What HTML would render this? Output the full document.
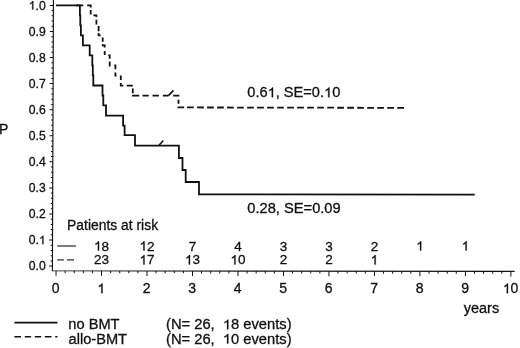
<!DOCTYPE html>
<html><head><meta charset="utf-8"><style>
html,body{margin:0;padding:0;background:#fff;width:520px;height:348px;overflow:hidden}
svg{display:block;will-change:transform}
text{font-family:"Liberation Sans",sans-serif;fill:#111;stroke:#111;stroke-width:0.3px;white-space:pre}
.h{fill-opacity:0;stroke-opacity:0}
.o path{vector-effect:non-scaling-stroke}
</style></head><body>
<svg width="520" height="348" viewBox="0 0 520 348" xml:space="preserve">
<g transform="matrix(1,0.00131,-0.00376,1,1.0182,-0.0686)"><path d="M52.4,-1 V270.8 H514.6" fill="none" stroke="#111" stroke-width="1.15"/><path d="M49.0,266.10H52.4M49.0,240.03H52.4M49.0,213.96H52.4M49.0,187.89H52.4M49.0,161.82H52.4M49.0,135.75H52.4M49.0,109.68H52.4M49.0,83.61H52.4M49.0,57.54H52.4M49.0,31.47H52.4M49.0,5.40H52.4M50.6,260.89H52.4M50.6,255.67H52.4M50.6,250.46H52.4M50.6,245.24H52.4M50.6,234.82H52.4M50.6,229.60H52.4M50.6,224.39H52.4M50.6,219.17H52.4M50.6,208.75H52.4M50.6,203.53H52.4M50.6,198.32H52.4M50.6,193.10H52.4M50.6,182.68H52.4M50.6,177.46H52.4M50.6,172.25H52.4M50.6,167.03H52.4M50.6,156.61H52.4M50.6,151.39H52.4M50.6,146.18H52.4M50.6,140.96H52.4M50.6,130.54H52.4M50.6,125.32H52.4M50.6,120.11H52.4M50.6,114.89H52.4M50.6,104.47H52.4M50.6,99.25H52.4M50.6,94.04H52.4M50.6,88.82H52.4M50.6,78.40H52.4M50.6,73.18H52.4M50.6,67.97H52.4M50.6,62.75H52.4M50.6,52.33H52.4M50.6,47.11H52.4M50.6,41.90H52.4M50.6,36.68H52.4M50.6,26.26H52.4M50.6,21.04H52.4M50.6,15.83H52.4M50.6,10.61H52.4M56.05,270.8V275.8M101.53,270.8V275.8M147.02,270.8V275.8M192.50,270.8V275.8M237.99,270.8V275.8M283.48,270.8V275.8M328.96,270.8V275.8M374.44,270.8V275.8M419.93,270.8V275.8M465.42,270.8V275.8M510.90,270.8V275.8M65.15,270.8V273.2M74.24,270.8V273.2M83.34,270.8V273.2M92.44,270.8V273.2M110.63,270.8V273.2M119.73,270.8V273.2M128.83,270.8V273.2M137.92,270.8V273.2M156.12,270.8V273.2M165.21,270.8V273.2M174.31,270.8V273.2M183.41,270.8V273.2M201.60,270.8V273.2M210.70,270.8V273.2M219.80,270.8V273.2M228.89,270.8V273.2M247.09,270.8V273.2M256.18,270.8V273.2M265.28,270.8V273.2M274.38,270.8V273.2M292.57,270.8V273.2M301.67,270.8V273.2M310.77,270.8V273.2M319.86,270.8V273.2M338.06,270.8V273.2M347.15,270.8V273.2M356.25,270.8V273.2M365.35,270.8V273.2M383.54,270.8V273.2M392.64,270.8V273.2M401.74,270.8V273.2M410.83,270.8V273.2M429.03,270.8V273.2M438.12,270.8V273.2M447.22,270.8V273.2M456.32,270.8V273.2M474.51,270.8V273.2M483.61,270.8V273.2M492.71,270.8V273.2M501.80,270.8V273.2" fill="none" stroke="#111" stroke-width="1"/></g>
<text x="45.70" y="270.20" font-size="12.2" text-anchor="end">0.0</text>
<text x="45.70" y="244.13" font-size="12.2" text-anchor="end">0.<tspan class="h">1</tspan></text>
<text x="45.70" y="218.06" font-size="12.2" text-anchor="end">0.2</text>
<text x="45.70" y="191.99" font-size="12.2" text-anchor="end">0.3</text>
<text x="45.70" y="165.92" font-size="12.2" text-anchor="end">0.4</text>
<text x="45.70" y="139.85" font-size="12.2" text-anchor="end">0.5</text>
<text x="45.70" y="113.78" font-size="12.2" text-anchor="end">0.6</text>
<text x="45.70" y="87.71" font-size="12.2" text-anchor="end">0.7</text>
<text x="45.70" y="61.64" font-size="12.2" text-anchor="end">0.8</text>
<text x="45.70" y="35.57" font-size="12.2" text-anchor="end">0.9</text>
<text x="45.70" y="9.50" font-size="12.2" text-anchor="end"><tspan class="h">1</tspan>.0</text>
<text x="55.75" y="293.20" font-size="14" text-anchor="middle">0</text>
<text x="101.23" y="293.20" font-size="14" text-anchor="middle"><tspan class="h">1</tspan></text>
<text x="146.72" y="293.20" font-size="14" text-anchor="middle">2</text>
<text x="192.20" y="293.20" font-size="14" text-anchor="middle">3</text>
<text x="237.69" y="293.20" font-size="14" text-anchor="middle">4</text>
<text x="283.18" y="293.20" font-size="14" text-anchor="middle">5</text>
<text x="328.66" y="293.20" font-size="14" text-anchor="middle">6</text>
<text x="374.14" y="293.20" font-size="14" text-anchor="middle">7</text>
<text x="419.63" y="293.20" font-size="14" text-anchor="middle">8</text>
<text x="465.12" y="293.20" font-size="14" text-anchor="middle">9</text>
<text x="510.60" y="293.20" font-size="14" text-anchor="middle"><tspan class="h">1</tspan>0</text>
<path d="M76,5.4 H83.3 M87.2,5.4 H90.7 V7.4 M90.7,10 V14.4 M93.4,15.4 H96.4 V17 M96.4,19.8 V24.4 M98.6,26.1 V31.3 M98.6,33 V35.4 H100.6 M102.7,37.6 V41.7 M102.7,44.2 V45.4 H104.7 V47.4 M104.7,50.9 V55 M108.3,55.4 H109.7 V58.8 M109.7,61.6 V65.5 H110.6 M114.3,65.5 H115.4 V69.3 M115.4,72.5 V75.5 H116.5 M120.8,75.5 V79.9 M120.8,82.9 V85.6 H123.2 M126.7,85.6 H132.8 M132.8,88.5 V93.3 M132.8,95 V95.6 H139.2 M142.5,95.6 H148.7 M152.5,95.6 H158.9 M162.9,95.6 H168.5 M173.2,95.6 H178.5 V96.5 M178.5,99.7 V103.8 M178.5,106.6 V107.4 H184.2" fill="none" stroke="#111" stroke-width="1.8"/>
<path d="M187.1,107.45 L404,107.85" fill="none" stroke="#111" stroke-width="1.8" stroke-dasharray="6.7 3.31"/>
<path d="M56,5.4 H79.9 V15.4 H80.3 V25.4 H80.9 V35.3 H82.9 V45.3 H89.7 V55.4 H92.3 V65.4 H92.8 V75.4 H93.3 V85.5 H102.5 V95.5 H103.3 V105.4 H106 V115.6 H123.1 V125.6 H124.6 V135.2 H135 V145.7 H178.9 V158 H182.5 V170 H185.7 V182 H199 V194.3 L474.8,194.65" fill="none" stroke="#111" stroke-width="1.8"/>
<path d="M158.6,145.7 L163.3,140.5 M168.5,95.6 L173.4,90.4" fill="none" stroke="#111" stroke-width="1.6"/>
<text x="247.30" y="97.20" font-size="14" textLength="93" lengthAdjust="spacingAndGlyphs">0.6<tspan class="h">1</tspan>, SE=0.<tspan class="h">1</tspan>0</text>
<text x="247.30" y="213.10" font-size="14" textLength="93.4" lengthAdjust="spacingAndGlyphs">0.28, SE=0.09</text>
<text x="67.10" y="229.80" font-size="14" textLength="91" lengthAdjust="spacingAndGlyphs">Patients at risk</text>
<path d="M57.2,246 H75.9" stroke="#333" stroke-width="1.3"/>
<path d="M57.2,259.8 H63.9 M66.9,259.8 H74" stroke="#333" stroke-width="1.3"/>
<text x="101.53" y="250.60" font-size="13.5" text-anchor="middle"><tspan class="h">1</tspan>8</text>
<text x="147.02" y="250.60" font-size="13.5" text-anchor="middle"><tspan class="h">1</tspan>2</text>
<text x="192.50" y="250.60" font-size="13.5" text-anchor="middle">7</text>
<text x="237.99" y="250.60" font-size="13.5" text-anchor="middle">4</text>
<text x="283.48" y="250.60" font-size="13.5" text-anchor="middle">3</text>
<text x="328.96" y="250.60" font-size="13.5" text-anchor="middle">3</text>
<text x="374.44" y="250.60" font-size="13.5" text-anchor="middle">2</text>
<text x="419.93" y="250.60" font-size="13.5" text-anchor="middle"><tspan class="h">1</tspan></text>
<text x="465.42" y="250.60" font-size="13.5" text-anchor="middle"><tspan class="h">1</tspan></text>
<text x="101.53" y="264.40" font-size="13.5" text-anchor="middle">23</text>
<text x="147.02" y="264.40" font-size="13.5" text-anchor="middle"><tspan class="h">1</tspan>7</text>
<text x="192.50" y="264.40" font-size="13.5" text-anchor="middle"><tspan class="h">1</tspan>3</text>
<text x="237.99" y="264.40" font-size="13.5" text-anchor="middle"><tspan class="h">1</tspan>0</text>
<text x="283.48" y="264.40" font-size="13.5" text-anchor="middle">2</text>
<text x="328.96" y="264.40" font-size="13.5" text-anchor="middle">2</text>
<text x="374.44" y="264.40" font-size="13.5" text-anchor="middle"><tspan class="h">1</tspan></text>
<text x="463.80" y="312.50" font-size="14" textLength="35.3" lengthAdjust="spacingAndGlyphs">years</text>
<text x="-1.00" y="134.00" font-size="14">P</text>
<path d="M14.4,322.6 H57.5" stroke="#111" stroke-width="1.6"/>
<path d="M14.4,336.8 H21 M24.8,336.8 H31.1 M34.8,336.8 H41.2 M44.8,336.8 H51.5 M55.2,336.8 H57.5" stroke="#111" stroke-width="1.6"/>
<text x="68.30" y="329.30" font-size="14" textLength="51.2" lengthAdjust="spacingAndGlyphs">no BMT</text>
<text x="68.50" y="343.90" font-size="14" textLength="58.5" lengthAdjust="spacingAndGlyphs">allo-BMT</text>
<text x="166.00" y="329.30" font-size="14" textLength="125.6" lengthAdjust="spacingAndGlyphs">(N= 26,  <tspan class="h">1</tspan>8 events)</text>
<text x="166.00" y="343.60" font-size="14" textLength="125.6" lengthAdjust="spacingAndGlyphs">(N= 26,  <tspan class="h">1</tspan>0 events)</text>
<g fill="#111" stroke="#111" stroke-width="0.3" class="o"><path transform="translate(38.92,244.13) scale(0.00595,-0.00596)" d="M763,0 L583,0 L583,1098 Q518,1039 412,979 Q306,920 223,890 L223,1057 Q374,1125 487,1221 Q600,1318 647,1409 L763,1409 Z"/><path transform="translate(28.75,9.50) scale(0.00595,-0.00596)" d="M763,0 L583,0 L583,1098 Q518,1039 412,979 Q306,920 223,890 L223,1057 Q374,1125 487,1221 Q600,1318 647,1409 L763,1409 Z"/><path transform="translate(97.33,293.20) scale(0.00685,-0.00684)" d="M763,0 L583,0 L583,1098 Q518,1039 412,979 Q306,920 223,890 L223,1057 Q374,1125 487,1221 Q600,1318 647,1409 L763,1409 Z"/><path transform="translate(502.80,293.20) scale(0.00685,-0.00684)" d="M763,0 L583,0 L583,1098 Q518,1039 412,979 Q306,920 223,890 L223,1057 Q374,1125 487,1221 Q600,1318 647,1409 L763,1409 Z"/><path transform="translate(267.60,97.20) scale(0.00712,-0.00684)" d="M763,0 L583,0 L583,1098 Q518,1039 412,979 Q306,920 223,890 L223,1057 Q374,1125 487,1221 Q600,1318 647,1409 L763,1409 Z"/><path transform="translate(324.04,97.20) scale(0.00712,-0.00684)" d="M763,0 L583,0 L583,1098 Q518,1039 412,979 Q306,920 223,890 L223,1057 Q374,1125 487,1221 Q600,1318 647,1409 L763,1409 Z"/><path transform="translate(94.01,250.60) scale(0.00660,-0.00659)" d="M763,0 L583,0 L583,1098 Q518,1039 412,979 Q306,920 223,890 L223,1057 Q374,1125 487,1221 Q600,1318 647,1409 L763,1409 Z"/><path transform="translate(139.50,250.60) scale(0.00660,-0.00659)" d="M763,0 L583,0 L583,1098 Q518,1039 412,979 Q306,920 223,890 L223,1057 Q374,1125 487,1221 Q600,1318 647,1409 L763,1409 Z"/><path transform="translate(416.17,250.60) scale(0.00660,-0.00659)" d="M763,0 L583,0 L583,1098 Q518,1039 412,979 Q306,920 223,890 L223,1057 Q374,1125 487,1221 Q600,1318 647,1409 L763,1409 Z"/><path transform="translate(461.66,250.60) scale(0.00660,-0.00659)" d="M763,0 L583,0 L583,1098 Q518,1039 412,979 Q306,920 223,890 L223,1057 Q374,1125 487,1221 Q600,1318 647,1409 L763,1409 Z"/><path transform="translate(139.50,264.40) scale(0.00660,-0.00659)" d="M763,0 L583,0 L583,1098 Q518,1039 412,979 Q306,920 223,890 L223,1057 Q374,1125 487,1221 Q600,1318 647,1409 L763,1409 Z"/><path transform="translate(184.98,264.40) scale(0.00660,-0.00659)" d="M763,0 L583,0 L583,1098 Q518,1039 412,979 Q306,920 223,890 L223,1057 Q374,1125 487,1221 Q600,1318 647,1409 L763,1409 Z"/><path transform="translate(230.47,264.40) scale(0.00660,-0.00659)" d="M763,0 L583,0 L583,1098 Q518,1039 412,979 Q306,920 223,890 L223,1057 Q374,1125 487,1221 Q600,1318 647,1409 L763,1409 Z"/><path transform="translate(370.68,264.40) scale(0.00660,-0.00659)" d="M763,0 L583,0 L583,1098 Q518,1039 412,979 Q306,920 223,890 L223,1057 Q374,1125 487,1221 Q600,1318 647,1409 L763,1409 Z"/><path transform="translate(222.86,329.30) scale(0.00718,-0.00684)" d="M763,0 L583,0 L583,1098 Q518,1039 412,979 Q306,920 223,890 L223,1057 Q374,1125 487,1221 Q600,1318 647,1409 L763,1409 Z"/><path transform="translate(222.86,343.60) scale(0.00718,-0.00684)" d="M763,0 L583,0 L583,1098 Q518,1039 412,979 Q306,920 223,890 L223,1057 Q374,1125 487,1221 Q600,1318 647,1409 L763,1409 Z"/></g>
</svg>
</body></html>
